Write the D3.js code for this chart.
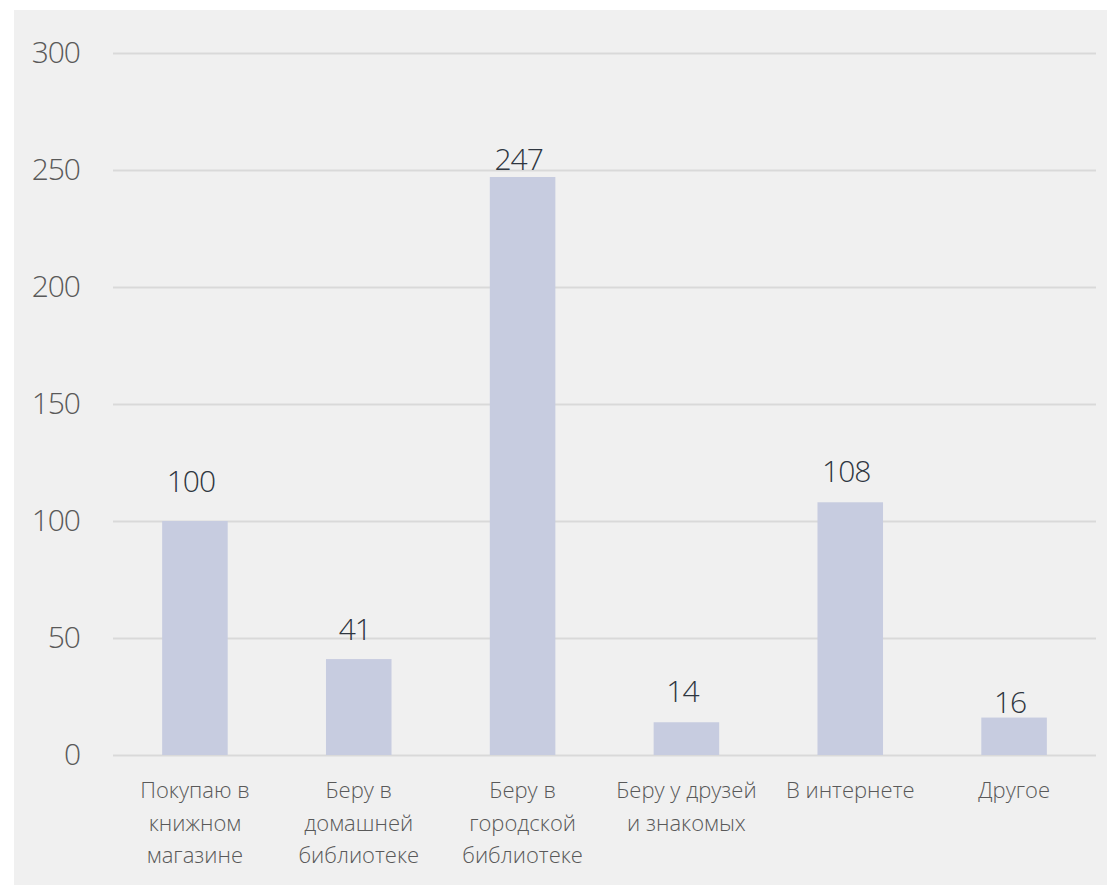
<!DOCTYPE html>
<html><head><meta charset="utf-8">
<script src="https://cdn.jsdelivr.net/npm/d3@7"></script>
<style>
html,body{margin:0;padding:0;background:#fff;}
svg text{font-family:"Open Sans","Segoe UI",sans-serif;font-weight:300;}
</style></head>
<body><svg id="c" width="1107" height="886"></svg>
<script>
const categories = ["Покупаю в\nкнижном\nмагазине","Беру в\nдомашней\nбиблиотеке","Беру в\nгородской\nбиблиотеке","Беру у друзей\nи знакомых","В интернете","Другое"];
const values = [100, 41, 247, 14, 108, 16];
const yTicks = [0, 50, 100, 150, 200, 250, 300];
const labelNudge = [29, 19, 7, 20, 20, 5];

const svg = d3.select("#c");
svg.append("rect").attr("x",14).attr("y",10).attr("width",1093).attr("height",875).attr("fill","#f0f0f0");

const x = d3.scaleBand().domain(categories).range([113,1096]).paddingInner(0.6).paddingOuter(0.3);
const y = d3.scaleLinear().domain([0,300]).range([755,53]);

const gy = svg.append("g").attr("transform","translate(113,0)")
  .call(d3.axisLeft(y).tickValues(yTicks).tickSize(-983).tickPadding(33));
gy.select(".domain").remove();
gy.selectAll(".tick line").attr("stroke","#d9d9d9").attr("stroke-width",2);
gy.selectAll(".tick text").attr("fill","#595959").attr("font-size",30).attr("letter-spacing","-1px");

svg.selectAll("rect.bar").data(values).enter().append("rect").attr("class","bar")
  .attr("x",(d,i)=>x(categories[i])).attr("width",x.bandwidth())
  .attr("y",d=>y(d)).attr("height",d=>y(0)-y(d)).attr("fill","#c7cce0");

svg.selectAll("text.val").data(values).enter().append("text").attr("class","val")
  .attr("x",(d,i)=>x(categories[i])+x.bandwidth()/2 - 4)
  .attr("y",(d,i)=>y(d)-labelNudge[i])
  .attr("text-anchor","middle").attr("font-size",30).attr("letter-spacing","-1px")
  .attr("fill","#2f3640").text(d=>d);

const gx = svg.append("g").attr("transform","translate(0,755)")
  .call(d3.axisBottom(x).tickSize(0).tickFormat(""));
gx.select(".domain").remove();
gx.selectAll(".tick").each(function(d){
  const t = d3.select(this).append("text").attr("fill","#595959").attr("font-size",22)
    .attr("text-anchor","middle");
  d.split("\n").forEach((ln,j)=>{
    t.append("tspan").attr("x",0).attr("y",43+j*32.5).text(ln);
  });
});
</script></body></html>
